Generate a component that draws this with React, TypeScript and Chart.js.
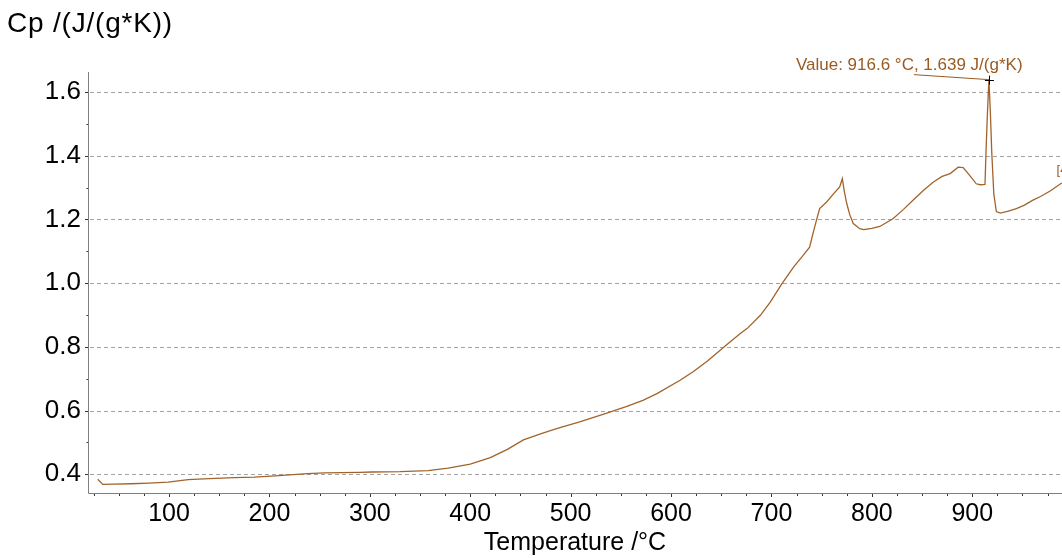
import React, { useEffect, useRef } from 'react';
import { Chart, registerables } from 'chart.js';

Chart.register(...registerables);

// ---- data ----
const temperatures = [
  29, 34, 45, 62, 80, 99, 119, 140, 165, 185, 202, 220, 238, 255, 272, 290, 302, 330, 358, 378,
  400, 420, 437, 453, 470, 486, 509, 536, 556, 572, 586, 609, 622, 636, 656, 669, 676, 689, 699, 710,
  722, 731, 738, 743, 748, 755, 762, 768, 770.6, 772.5, 775, 778, 781.5, 788, 792, 800, 808, 821, 831, 841,
  851, 861, 870, 878, 886, 891, 897, 904, 908, 912.7, 913.8, 915.2, 916.6, 918, 919.5, 921.5, 924, 928, 936, 944,
  952, 960, 968, 978, 988, 992,
];
const cpValues = [
  0.384, 0.368, 0.369, 0.37, 0.372, 0.375, 0.383, 0.386, 0.389, 0.391, 0.394, 0.398, 0.402, 0.404, 0.405, 0.406, 0.407, 0.408, 0.411, 0.419,
  0.432, 0.452, 0.478, 0.508, 0.527, 0.543, 0.564, 0.592, 0.613, 0.632, 0.653, 0.695, 0.722, 0.755, 0.808, 0.842, 0.858, 0.899, 0.941, 0.996,
  1.05, 1.085, 1.113, 1.176, 1.234, 1.255, 1.281, 1.302, 1.328, 1.29, 1.25, 1.215, 1.187, 1.171, 1.168, 1.172, 1.178, 1.202, 1.23, 1.26,
  1.29, 1.317, 1.335, 1.344, 1.364, 1.363, 1.34, 1.312, 1.309, 1.31, 1.42, 1.54, 1.639, 1.54, 1.406, 1.28, 1.225, 1.22, 1.226, 1.234,
  1.245, 1.26, 1.272, 1.29, 1.312, 1.318,
];

const xTickValues = [100, 200, 300, 400, 500, 600, 700, 800, 900];
const xTickLabels = ['100', '200', '300', '400', '500', '600', '700', '800', '900'];
const yTickValues = [0.4, 0.6, 0.8, 1.0, 1.2, 1.4, 1.6];
const yTickLabels = ['0.4', '0.6', '0.8', '1.0', '1.2', '1.4', '1.6'];
const xMinorTicks = [25, 50, 75, 125, 150, 175, 225, 250, 275, 325, 350, 375, 425, 450, 475, 525, 550, 575, 625, 650, 675, 725, 750, 775, 825, 850, 875, 925, 950, 975];
const yMinorTicks = [0.5, 0.7, 0.9, 1.1, 1.3, 1.5];

const xMin = 19.3;
const xMax = 989.4;
const yMin = 0.341;
const yMax = 1.663;

const xAxisTitle = 'Temperature /°C';
const yAxisTitle = 'Cp /(J/(g*K))';
const peakT = 916.6;
const peakCp = 1.639;
const endLabel = '[4';

const FONT = "'Liberation Sans', Arial, Helvetica, sans-serif";
const CURVE = '#a2632a';

const decoPlugin = {
  id: 'deco',
  beforeDatasetsDraw(chart: any) {
    const { ctx, chartArea: a, scales } = chart;
    const x = scales.x;
    const y = scales.y;
    ctx.save();
    ctx.strokeStyle = '#a3a3a3';
    ctx.lineWidth = 1;
    ctx.setLineDash([4, 3]);
    yTickValues.forEach((v) => {
      const py = Math.round(y.getPixelForValue(v)) + 0.5;
      ctx.beginPath();
      ctx.moveTo(a.left + 2, py);
      ctx.lineTo(a.right, py);
      ctx.stroke();
    });
    ctx.setLineDash([]);
    ctx.strokeStyle = '#808080';
    ctx.beginPath();
    ctx.moveTo(a.left + 0.5, a.top);
    ctx.lineTo(a.left + 0.5, a.bottom + 0.5);
    ctx.lineTo(a.right, a.bottom + 0.5);
    ctx.stroke();
    ctx.strokeStyle = '#333333';
    ctx.beginPath();
    yTickValues.forEach((v) => {
      const py = Math.round(y.getPixelForValue(v)) + 0.5;
      ctx.moveTo(a.left - 3, py);
      ctx.lineTo(a.left, py);
    });
    yMinorTicks.forEach((v) => {
      const py = Math.round(y.getPixelForValue(v)) + 0.5;
      ctx.moveTo(a.left - 1.5, py);
      ctx.lineTo(a.left, py);
    });
    xTickValues.forEach((v) => {
      const px = Math.round(x.getPixelForValue(v)) + 0.5;
      ctx.moveTo(px, a.bottom + 1);
      ctx.lineTo(px, a.bottom + 4);
    });
    xMinorTicks.forEach((v) => {
      if (v < xMin || v > xMax) return;
      const px = Math.round(x.getPixelForValue(v)) + 0.5;
      ctx.moveTo(px, a.bottom + 1);
      ctx.lineTo(px, a.bottom + 3);
    });
    ctx.stroke();
    ctx.restore();
  },
  afterDatasetsDraw(chart: any) {
    const { ctx, scales } = chart;
    const x = scales.x;
    const y = scales.y;
    ctx.save();
    ctx.fillStyle = '#000000';
    ctx.font = `28px ${FONT}`;
    ctx.textAlign = 'left';
    ctx.textBaseline = 'alphabetic';
    try { (ctx as any).letterSpacing = '0.8px'; } catch (e) { /* ignore */ }
    ctx.fillText(yAxisTitle, 7, 32);
    try { (ctx as any).letterSpacing = '0px'; } catch (e) { /* ignore */ }
    const px = x.getPixelForValue(peakT);
    const py = y.getPixelForValue(peakCp);
    ctx.strokeStyle = '#9a5a22';
    ctx.lineWidth = 1;
    ctx.beginPath();
    ctx.moveTo(px - 75, py - 5);
    ctx.lineTo(px, py);
    ctx.stroke();
    ctx.strokeStyle = '#000000';
    ctx.beginPath();
    ctx.moveTo(px - 4, Math.round(py) + 0.5);
    ctx.lineTo(px + 5, Math.round(py) + 0.5);
    ctx.moveTo(Math.round(px) + 0.5, py - 4);
    ctx.lineTo(Math.round(px) + 0.5, py + 5);
    ctx.stroke();
    ctx.fillStyle = '#9a5a22';
    ctx.font = `17px ${FONT}`;
    ctx.fillText(`Value: ${peakT.toFixed(1)} °C, ${peakCp.toFixed(3)} J/(g*K)`, px - 193, py - 10);
    const ex = x.getPixelForValue(temperatures[temperatures.length - 2]);
    const ey = y.getPixelForValue(cpValues[cpValues.length - 2]);
    ctx.font = `13px ${FONT}`;
    ctx.fillText(endLabel, ex - 4, ey - 10);
    ctx.restore();
  },
};

export default function App() {
  const canvasRef = useRef<HTMLCanvasElement | null>(null);

  useEffect(() => {
    const canvas = canvasRef.current;
    if (!canvas) return;
    const points = temperatures.map((t, i) => ({ x: t, y: cpValues[i] }));
    const chart = new Chart(canvas, {
      type: 'line',
      data: {
        datasets: [
          {
            data: points,
            borderColor: CURVE,
            borderWidth: 1.3,
            pointRadius: 0,
            tension: 0,
            fill: false,
          },
        ],
      },
      options: {
        animation: false,
        responsive: false,
        maintainAspectRatio: false,
        layout: { padding: { top: 72, left: 0, right: 0, bottom: 0 } },
        plugins: {
          legend: { display: false },
          tooltip: { enabled: false },
          title: { display: false },
        },
        scales: {
          x: {
            type: 'linear',
            min: xMin,
            max: xMax,
            grid: { display: false, drawTicks: false, tickLength: 0 },
            border: { display: false },
            afterBuildTicks: (scale: any) => {
              scale.ticks = xTickValues.map((v) => ({ value: v }));
            },
            afterFit: (scale: any) => {
              scale.height = 65;
            },
            ticks: {
              autoSkip: false,
              maxRotation: 0,
              minRotation: 0,
              padding: 6,
              color: '#000000',
              font: { family: FONT, size: 25 },
              callback: (v: any) => {
                const i = xTickValues.indexOf(Number(v));
                return i >= 0 ? xTickLabels[i] : '';
              },
            },
            title: {
              display: true,
              text: xAxisTitle,
              color: '#000000',
              font: { family: FONT, size: 25 },
              padding: { top: 0, bottom: 0 },
            },
          },
          y: {
            type: 'linear',
            min: yMin,
            max: yMax,
            grid: { display: false, drawTicks: false, tickLength: 0 },
            border: { display: false },
            afterBuildTicks: (scale: any) => {
              scale.ticks = yTickValues.map((v) => ({ value: v }));
            },
            afterFit: (scale: any) => {
              scale.width = 88;
            },
            ticks: {
              autoSkip: false,
              padding: 7,
              color: '#000000',
              font: { family: FONT, size: 26 },
              callback: (v: any) => {
                const i = yTickValues.findIndex((t) => Math.abs(t - Number(v)) < 1e-6);
                return i >= 0 ? yTickLabels[i] : '';
              },
            },
          },
        },
      },
      plugins: [decoPlugin],
    });
    return () => chart.destroy();
  }, []);

  return (
    <div style={{ position: 'fixed', left: 0, top: 0, width: 1062, height: 558, overflow: 'hidden', background: '#ffffff' }}>
      <canvas ref={canvasRef} width={1062} height={558} style={{ display: 'block', width: 1062, height: 558 }} />
    </div>
  );
}
